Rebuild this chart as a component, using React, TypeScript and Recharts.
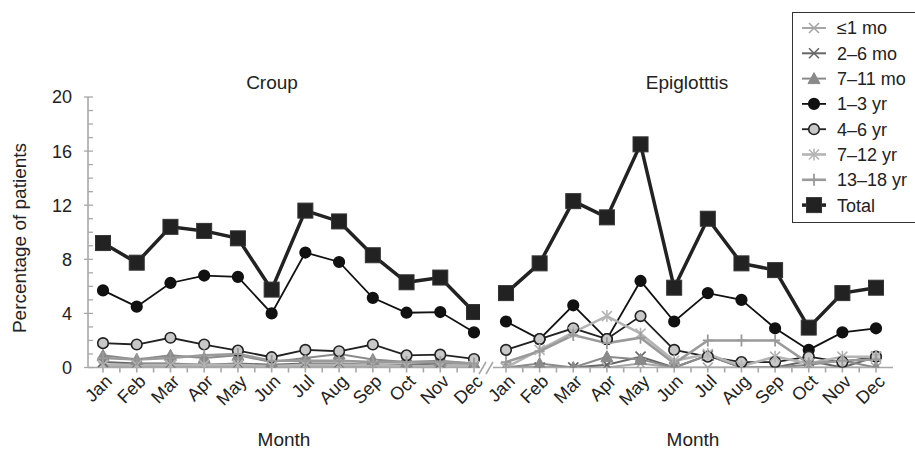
import React from 'react';
import { LineChart, Line, XAxis, YAxis } from 'recharts';

const MONTHS = ['Jan', 'Feb', 'Mar', 'Apr', 'May', 'Jun', 'Jul', 'Aug', 'Sep', 'Oct', 'Nov', 'Dec'];
const X_TICKS = [0, 0.5, 1, 1.5, 2, 2.5, 3, 3.5, 4, 4.5, 5, 5.5, 6, 6.5, 7, 7.5, 8, 8.5, 9, 9.5, 10, 10.5, 11];
const Y_TICKS = [0, 1, 2, 3, 4, 5, 6, 7, 8, 9, 10, 11, 12, 13, 14, 15, 16, 17, 18, 19, 20];
const Y_LABELS = [0, 4, 8, 12, 16, 20];

const SERIES_NAMES = ['≤1 mo', '2–6 mo', '7–11 mo', '1–3 yr', '4–6 yr', '7–12 yr', '13–18 yr', 'Total'];

// Croup
const croupLe1mo = [0.1, 0.1, 0.1, 0.1, 0.1, 0.1, 0.1, 0.1, 0.1, 0.1, 0.1, 0.1];
const croup2to6mo = [0.4, 0.3, 0.3, 0.2, 0.3, 0.2, 0.3, 0.3, 0.2, 0.2, 0.3, 0.3];
const croup7to11mo = [0.9, 0.6, 0.9, 0.7, 0.9, 0.4, 0.7, 1.0, 0.6, 0.4, 0.5, 0.3];
const croup1to3yr = [5.7, 4.5, 6.25, 6.8, 6.7, 4.0, 8.5, 7.8, 5.15, 4.05, 4.1, 2.6];
const croup4to6yr = [1.8, 1.7, 2.2, 1.7, 1.25, 0.76, 1.3, 1.2, 1.7, 0.9, 0.95, 0.63];
const croup7to12yr = [0.2, 0.2, 0.2, 0.2, 0.2, 0.1, 0.2, 0.2, 0.2, 0.1, 0.1, 0.1];
const croup13to18yr = [0.7, 0.6, 0.7, 0.9, 1.0, 0.5, 0.5, 0.5, 0.4, 0.4, 0.4, 0.3];
const croupTotal = [9.2, 7.75, 10.4, 10.1, 9.55, 5.76, 11.6, 10.8, 8.3, 6.3, 6.65, 4.1];

// Epiglottitis
const epiLe1mo = [0, 0, 0, 0, 0.3, 0, 0, 0, 0, 0, 0, 0];
const epi2to6mo = [0, 0, 0, 0.2, 0.8, 0, 0.9, 0, 0, 0.5, 0, 0.8];
const epi7to11mo = [0, 0.3, 0, 0.8, 0.6, 0, 0.9, 0, 0, 0.2, 0.5, 0];
const epi1to3yr = [3.4, 2.1, 4.6, 2.1, 6.4, 3.4, 5.5, 5.0, 2.9, 1.3, 2.6, 2.9];
const epi4to6yr = [1.3, 2.1, 2.9, 2.1, 3.8, 1.3, 0.8, 0.4, 0.4, 0.8, 0.4, 0.8];
const epi7to12yr = [0, 1.3, 2.6, 3.8, 2.5, 0.5, 1.0, 0.1, 0.8, 0.3, 0.8, 0.8];
const epi13to18yr = [0.4, 1.2, 2.4, 1.8, 2.2, 0.3, 2.0, 2.0, 2.0, 0.3, 0.5, 0.6];
const epiTotal = [5.5, 7.7, 12.3, 11.1, 16.5, 5.9, 11.0, 7.7, 7.2, 2.95, 5.5, 5.9];

const FONT = '"Liberation Sans", Arial, Helvetica, sans-serif';
const AXIS_COLOR = '#a8a8a8';

type Style = { key: string; stroke: string; width: number; marker: string; fill?: string };
const STYLES: Style[] = [
  { key: 's0', stroke: '#a6a6a6', width: 2, marker: 'x' },
  { key: 's1', stroke: '#666666', width: 2, marker: 'x' },
  { key: 's2', stroke: '#8a8a8a', width: 2, marker: 'triangle' },
  { key: 's3', stroke: '#111111', width: 1.8, marker: 'circle', fill: '#111111' },
  { key: 's4', stroke: '#222222', width: 1.8, marker: 'circle', fill: '#c8c8c8' },
  { key: 's5', stroke: '#b4b4b4', width: 2.6, marker: 'asterisk' },
  { key: 's6', stroke: '#9a9a9a', width: 2.6, marker: 'plus' },
  { key: 's7', stroke: '#222222', width: 3.5, marker: 'square', fill: '#222222' },
];

function buildRows(cols: number[][]) {
  return MONTHS.map((m, i) => {
    const row: any = { x: i, month: m };
    cols.forEach((c, j) => {
      row['s' + j] = c[i];
    });
    return row;
  });
}

const croupRows = buildRows([croupLe1mo, croup2to6mo, croup7to11mo, croup1to3yr, croup4to6yr, croup7to12yr, croup13to18yr, croupTotal]);
const epiRows = buildRows([epiLe1mo, epi2to6mo, epi7to11mo, epi1to3yr, epi4to6yr, epi7to12yr, epi13to18yr, epiTotal]);

function Marker({ cx, cy, s }: { cx: number; cy: number; s: Style }) {
  const c = s.stroke;
  switch (s.marker) {
    case 'x':
      return (
        <g>
          <line x1={cx - 5} y1={cy - 5} x2={cx + 5} y2={cy + 5} stroke={c} strokeWidth={1.6} />
          <line x1={cx - 5} y1={cy + 5} x2={cx + 5} y2={cy - 5} stroke={c} strokeWidth={1.6} />
        </g>
      );
    case 'asterisk':
      return (
        <g>
          <line x1={cx - 5} y1={cy - 5} x2={cx + 5} y2={cy + 5} stroke={c} strokeWidth={1.6} />
          <line x1={cx - 5} y1={cy + 5} x2={cx + 5} y2={cy - 5} stroke={c} strokeWidth={1.6} />
          <line x1={cx} y1={cy - 6} x2={cx} y2={cy + 6} stroke={c} strokeWidth={1.6} />
        </g>
      );
    case 'plus':
      return (
        <g>
          <line x1={cx} y1={cy - 6} x2={cx} y2={cy + 6} stroke={c} strokeWidth={1.8} />
          <line x1={cx - 5} y1={cy} x2={cx + 5} y2={cy} stroke={c} strokeWidth={1.8} />
        </g>
      );
    case 'triangle':
      return <polygon points={`${cx},${cy - 6} ${cx + 6},${cy + 5} ${cx - 6},${cy + 5}`} fill={c} stroke={c} strokeWidth={1} />;
    case 'circle':
      return <circle cx={cx} cy={cy} r={5.3} fill={s.fill} stroke={c} strokeWidth={1.6} />;
    case 'square':
      return <rect x={cx - 7.5} y={cy - 7.5} width={15} height={15} fill={s.fill} stroke="#333" strokeWidth={1} />;
    default:
      return null;
  }
}

const MonthTick = (props: any) => {
  const { x, y, payload } = props;
  const v = payload.value;
  if (!Number.isInteger(v)) return <g />;
  const ax = x + 10;
  const ay = y + 6;
  return (
    <text x={ax} y={ay} textAnchor="end" transform={`rotate(-45 ${ax} ${ay})`} fontSize={18} fontFamily={FONT} fill="#222">
      {MONTHS[v]}
    </text>
  );
};

const YTick = (props: any) => {
  const { x, y, payload } = props;
  const ax = x + 16;
  const major = Y_LABELS.includes(payload.value);
  return (
    <g>
      <line x1={major ? ax - 4 : ax} x2={ax + 5} y1={y} y2={y} stroke={AXIS_COLOR} strokeWidth={1.3} />
      {major && (
        <text x={x} y={y} dy="0.36em" textAnchor="end" fontSize={18} fontFamily={FONT} fill="#222">
          {payload.value}
        </text>
      )}
    </g>
  );
};

function renderLines(prefix: string) {
  return STYLES.map((s) => (
    <Line
      key={prefix + s.key}
      type="linear"
      dataKey={s.key}
      stroke={s.stroke}
      strokeWidth={s.width}
      isAnimationActive={false}
      dot={(p: any) => (
        <g key={`${prefix}-${s.key}-${p.index}`}>
          <Marker cx={p.cx} cy={p.cy} s={s} />
        </g>
      )}
      activeDot={false}
    />
  ));
}

function LegendBox() {
  return (
    <svg width={123} height={212} style={{ position: 'absolute', left: 792, top: 12 }}>
      <rect x={0.5} y={0.5} width={140} height={210} fill="#fff" stroke="#333" strokeWidth={1} />
      {STYLES.map((s, i) => {
        const y = 16 + i * 25.3;
        return (
          <g key={s.key}>
            <line x1={10} x2={34} y1={y} y2={y} stroke={s.stroke} strokeWidth={s.width} />
            <Marker cx={22} cy={y} s={s} />
            <text x={45} y={y} dy="0.36em" fontSize={18} fontFamily={FONT} fill="#222">
              {SERIES_NAMES[i]}
            </text>
          </g>
        );
      })}
    </svg>
  );
}

export default function App() {
  return (
    <div style={{ position: 'absolute', left: 0, top: 0, width: 915, height: 452, background: '#fff', overflow: 'hidden', fontFamily: FONT }}>
      <div style={{ position: 'absolute', left: 0, top: 0 }}>
        <LineChart width={500} height={452} data={croupRows} margin={{ top: 97, right: 20, bottom: 24.5, left: 28 }}>
          <XAxis
            dataKey="x"
            type="number"
            domain={[-0.445, 11.178]}
            ticks={X_TICKS}
            interval={0}
            height={60}
            tick={<MonthTick />}
            tickSize={5}
            tickMargin={4}
            stroke={AXIS_COLOR}
            strokeWidth={1.6}
            allowDataOverflow
          />
          <YAxis
            type="number"
            domain={[0, 20]}
            ticks={Y_TICKS}
            interval={0}
            width={60}
            tickLine={false}
            tickSize={8}
            tickMargin={8}
            tick={<YTick />}
            stroke={AXIS_COLOR}
            strokeWidth={1.6}
            allowDataOverflow
          />
          {renderLines('c')}
        </LineChart>
      </div>
      <div style={{ position: 'absolute', left: 460, top: 0 }}>
        <LineChart width={460} height={452} data={epiRows} margin={{ top: 97, right: 27, bottom: 24.5, left: 33 }}>
          <XAxis
            dataKey="x"
            type="number"
            domain={[-0.386, 11.505]}
            ticks={X_TICKS}
            interval={0}
            height={60}
            tick={<MonthTick />}
            tickSize={5}
            tickMargin={4}
            stroke={AXIS_COLOR}
            strokeWidth={1.6}
            allowDataOverflow
          />
          <YAxis type="number" domain={[0, 20]} hide allowDataOverflow />
          {renderLines('e')}
        </LineChart>
      </div>
      <svg width={915} height={452} style={{ position: 'absolute', left: 0, top: 0, pointerEvents: 'none' }}>
        <line x1={479} y1={374} x2={486} y2={362} stroke={AXIS_COLOR} strokeWidth={1.6} />
        <line x1={486} y1={374} x2={493} y2={362} stroke={AXIS_COLOR} strokeWidth={1.6} />
        <text x={272} y={89} textAnchor="middle" fontSize={19} fontFamily={FONT} fill="#222">Croup</text>
        <text x={687} y={89} textAnchor="middle" fontSize={19} fontFamily={FONT} fill="#222">Epiglotttis</text>
        <text x={284} y={446} textAnchor="middle" fontSize={19} fontFamily={FONT} fill="#222">Month</text>
        <text x={693} y={446} textAnchor="middle" fontSize={19} fontFamily={FONT} fill="#222">Month</text>
        <text x={26} y={238} textAnchor="middle" transform="rotate(-90 26 238)" fontSize={19} fontFamily={FONT} fill="#222">
          Percentage of patients
        </text>
      </svg>
      <LegendBox />
    </div>
  );
}
